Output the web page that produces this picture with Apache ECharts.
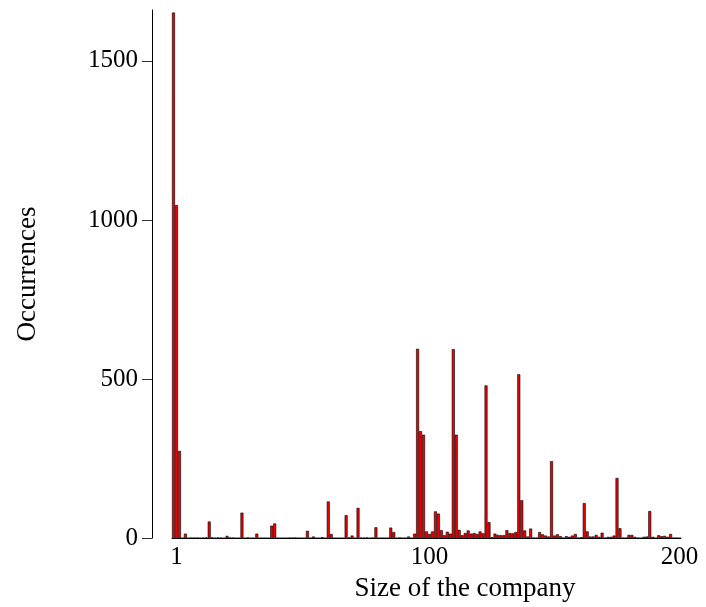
<!DOCTYPE html>
<html>
<head>
<meta charset="utf-8">
<script src="https://cdn.jsdelivr.net/npm/echarts@6/dist/echarts.min.js"></script>
<style>
html,body{margin:0;padding:0;background:#fff;}
#chart{width:706px;height:607px;}
</style>
</head>
<body>
<div id="chart"></div>
<script>
// Occurrences per histogram bin (company size from 1 to 200)
const counts = [
  1652, 1047, 274, 0, 14, 0, 1, 1, 1, 0,
  1, 2, 52, 2, 0, 2, 1, 0, 7, 2,
  1, 0, 0, 80, 0, 2, 0, 0, 14, 0,
  0, 0, 0, 39, 46, 0, 0, 0, 0, 1,
  1, 2, 0, 0, 0, 23, 0, 5, 0, 0,
  3, 0, 115, 13, 0, 0, 0, 0, 72, 2,
  8, 0, 95, 1, 1, 2, 0, 1, 34, 0,
  0, 0, 0, 33, 19, 0, 2, 0, 0, 5,
  0, 14, 595, 336, 325, 21, 13, 21, 84, 77,
  25, 9, 20, 14, 594, 325, 26, 9, 16, 24,
  14, 16, 13, 21, 15, 480, 50, 3, 14, 10,
  9, 9, 25, 16, 15, 19, 515, 119, 24, 5,
  30, 1, 1, 19, 12, 8, 5, 242, 8, 12,
  6, 1, 6, 4, 8, 13, 1, 3, 110, 21,
  5, 5, 10, 4, 17, 1, 4, 4, 8, 189,
  31, 1, 1, 10, 10, 4, 1, 0, 4, 5,
  85, 4, 1, 9, 6, 7, 4, 13, 1, 1,
  0
];
const categories = counts.map((_, i) => String(i));
const xTickIndex = [1, 86, 170];
const xTickLabels = ['1', '100', '200'];
const yTicks = [0, 500, 1000, 1500];
const yMax = 1660;

const FONT = 'Liberation Serif';
const chart = echarts.init(document.getElementById('chart'), null, {renderer: 'canvas'});
chart.setOption({
  animation: false,
  backgroundColor: '#ffffff',
  grid: {left: 172, right: 25, top: 10, bottom: 67, containLabel: false},
  xAxis: {
    type: 'category',
    data: categories,
    boundaryGap: true,
    name: 'Size of the company',
    nameLocation: 'middle',
    nameGap: 32,
    nameTextStyle: {fontFamily: FONT, fontSize: 27, color: '#000', padding: [0, 0, 0, 77]},
    axisLine: {show: true, lineStyle: {color: '#000', width: 1}},
    axisTick: {show: false},
    axisLabel: {
      interval: (idx) => xTickIndex.indexOf(idx) >= 0,
      formatter: (val, idx) => { const k = xTickIndex.indexOf(idx); return k >= 0 ? xTickLabels[k] : ''; },
      fontFamily: FONT, fontSize: 25, color: '#000', margin: 7
    },
    splitLine: {show: false}
  },
  yAxis: {
    type: 'value',
    min: 0,
    max: yMax,
    offset: 20,
    name: 'Occurrences',
    nameLocation: 'middle',
    nameGap: 111,
    nameTextStyle: {fontFamily: FONT, fontSize: 27, color: '#000'},
    axisLine: {show: true, lineStyle: {color: '#000', width: 1}},
    axisTick: {show: true, length: 10, customValues: yTicks, lineStyle: {color: '#333', width: 1}},
    axisLabel: {customValues: yTicks, formatter: (v) => String(v), fontFamily: FONT, fontSize: 25, color: '#000', margin: 14},
    splitLine: {show: false}
  },
  series: [{
    type: 'bar',
    data: counts,
    barCategoryGap: '0%',
    barGap: '0%',
    itemStyle: {color: '#ee0000', borderColor: '#000', borderWidth: 0.6},
    emphasis: {disabled: true}
  }]
});
</script>
</body>
</html>
